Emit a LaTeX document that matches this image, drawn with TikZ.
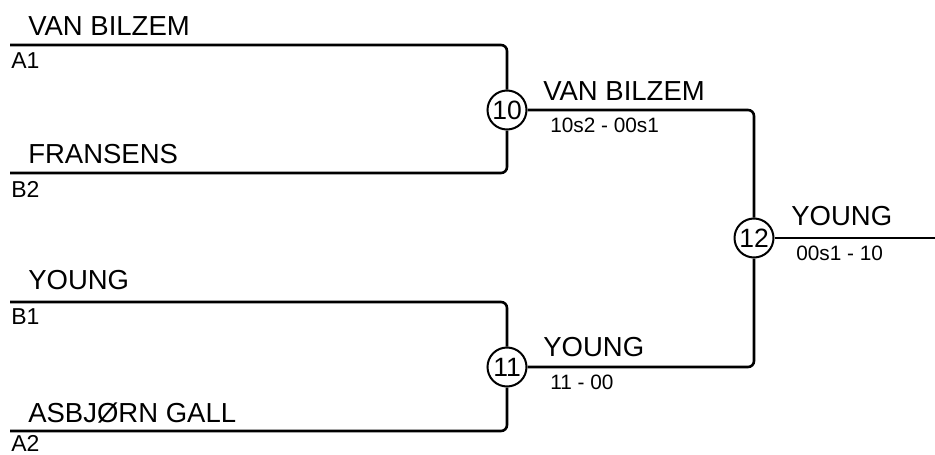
\documentclass[tikz,border=0pt]{standalone}
\usepackage{fontspec}
\setmainfont{Liberation Sans}
\begin{document}
\begin{tikzpicture}[x=1pt,y=-1pt,line width=2.6pt,
  pname/.style={anchor=base west,inner sep=0pt,font=\fontsize{27.5}{30}\selectfont},
  seed/.style={anchor=base west,inner sep=0pt,font=\fontsize{23}{25}\selectfont},
  score/.style={anchor=base west,inner sep=0pt,font=\fontsize{20.8}{24}\selectfont},
  match/.style={circle,draw,line width=2pt,minimum size=39pt,inner sep=0pt,fill=white,font=\fontsize{26.5}{28}\selectfont},
  bracket/.style={rounded corners=6pt}]
\useasboundingbox (0,0) rectangle (935,455);
% match circles
\node[match] (c10) at (507,110) {10};
\node[match] (c11) at (507,367) {11};
\node[match] (c12) at (754,238) {12};
% line starts
\coordinate (s1) at (10,45);
\coordinate (s2) at (10,173);
\coordinate (s3) at (10,302);
\coordinate (s4) at (10,431);
\coordinate (fin) at (935,238);
% connectors
\draw[bracket] (s1) -| (c10.north);
\draw[bracket] (s2) -| (c10.south);
\draw[bracket] (s3) -| (c11.north);
\draw[bracket] (s4) -| (c11.south);
\draw[bracket] (c10.east) -| (c12.north);
\draw[bracket] (c11.east) -| (c12.south);
\draw (c12.east) -- (fin);
% first round texts
\node[pname] (n1) at (27,35) {VAN BILZEM};
\node[seed] (l1) at (10,68) {A1};
\node[pname] (n2) at (27,163) {FRANSENS};
\node[seed] (l2) at (10,197) {B2};
\node[pname] (n3) at (27,289) {YOUNG};
\node[seed] (l3) at (10,324) {B1};
\node[pname] (n4) at (27,422) {ASBJØRN GALL};
\node[seed] (l4) at (10,451.5) {A2};
% second round texts
\node[pname] (w10) at (542,100) {VAN BILZEM};
\node[score] (r10) at (549,132) {10s2 - 00s1};
\node[pname] (w11) at (542,356) {YOUNG};
\node[score] (r11) at (549,389) {11 - 00};
% final
\node[pname] (w12) at (790,225) {YOUNG};
\node[score] (r12) at (795,260) {00s1 - 10};
\end{tikzpicture}
\end{document}
